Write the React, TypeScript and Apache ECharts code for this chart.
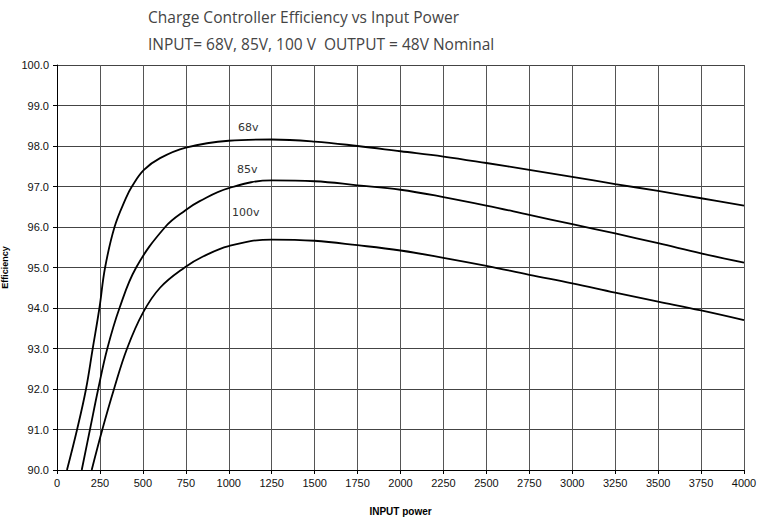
import React, { useEffect, useRef } from "react";
import * as echarts from "echarts";

const xTicks = [0, 250, 500, 750, 1000, 1250, 1500, 1750, 2000, 2250, 2500, 2750, 3000, 3250, 3500, 3750, 4000];

const series68v: [number, number][] = [
  [58, 90], [117, 91], [169, 92], [208, 93], [247, 94], [280, 95], [335, 96], [400, 96.7],
  [436, 97], [506, 97.41], [600, 97.7], [750, 97.96], [1000, 98.13], [1250, 98.16], [1500, 98.11],
  [1750, 98.0], [2000, 97.87], [2250, 97.74], [2500, 97.58], [2750, 97.41], [3000, 97.24],
  [3250, 97.06], [3500, 96.89], [3750, 96.71], [4000, 96.53],
];

const series85v: [number, number][] = [
  [144, 90], [192, 91], [240, 92], [293, 93], [364, 94], [461, 95], [630, 96], [750, 96.42],
  [831, 96.64], [1000, 96.96], [1250, 97.15], [1500, 97.13], [1750, 97.03], [2000, 96.92],
  [2250, 96.74], [2500, 96.53], [2750, 96.3], [3000, 96.07], [3250, 95.84], [3500, 95.6],
  [3750, 95.35], [4000, 95.12],
];

const series100v: [number, number][] = [
  [202, 90], [264, 91], [332, 92], [408, 93], [500, 93.88], [600, 94.5], [743, 95], [850, 95.27],
  [1000, 95.53], [1250, 95.69], [1500, 95.66], [1750, 95.55], [2000, 95.42], [2250, 95.24],
  [2500, 95.04], [2750, 94.82], [3000, 94.61], [3250, 94.38], [3500, 94.16], [3750, 93.94],
  [4000, 93.7],
];

const seriesNames = ["68v", "85v", "100v"];
const titleLine1 = "Charge Controller Efficiency vs Input Power";
const titleLine2 = "INPUT= 68V, 85V, 100 V  OUTPUT = 48V Nominal";

export default function App() {
  const ref = useRef<HTMLDivElement>(null);
  useEffect(() => {
    if (!ref.current) return;
    const chart = echarts.init(ref.current, null, { renderer: "svg" });
    const lineStyle = { color: "#000", width: 1.8 };
    const mk = (name: string, data: [number, number][]) => ({
      name,
      type: "line",
      data,
      smooth: 0.4,
      showSymbol: false,
      symbol: "none",
      lineStyle,
      silent: true,
    });
    chart.setOption({
      animation: false,
      backgroundColor: "#fff",
      grid: { left: 57, right: 14, top: 65, bottom: 47, containLabel: false, outerBoundsMode: "none" },
      xAxis: {
        type: "value",
        min: 0,
        max: 4000,
        interval: 250,
        name: "INPUT power",
        nameLocation: "middle",
        nameGap: 36,
        nameTextStyle: { fontFamily: "Liberation Sans", fontWeight: "bold", fontSize: 10, color: "#000" },
        axisLine: { show: true, lineStyle: { color: "#000", width: 1 } },
        axisTick: { show: true, length: 4, lineStyle: { color: "#000" } },
        axisLabel: {
          fontFamily: "Liberation Sans",
          fontSize: 11,
          color: "#111",
          margin: 7,
          formatter: (v: number) => (xTicks.includes(v) ? String(v) : ""),
        },
        splitLine: { show: true, lineStyle: { color: "#555", width: 1 } },
      },
      yAxis: {
        type: "value",
        min: 90,
        max: 100,
        interval: 1,
        name: "Efficiency",
        nameLocation: "middle",
        nameGap: 48,
        nameRotate: 90,
        nameTextStyle: { fontFamily: "Liberation Sans", fontWeight: "bold", fontSize: 9, color: "#000" },
        axisLine: { show: true, lineStyle: { color: "#000", width: 1 } },
        axisTick: { show: true, length: 4, lineStyle: { color: "#000" } },
        axisLabel: {
          fontFamily: "Liberation Sans",
          fontSize: 11,
          color: "#111",
          margin: 8,
          formatter: (v: number) => v.toFixed(1),
        },
        splitLine: { show: true, lineStyle: { color: "#444", width: 1 } },
      },
      graphic: [
        {
          type: "text",
          left: 148,
          top: 9,
          style: { text: titleLine1, fontFamily: "Open Sans", fontSize: 15.5, fill: "#444" },
        },
        {
          type: "text",
          left: 148,
          top: 36,
          style: { text: titleLine2, fontFamily: "Open Sans", fontSize: 15.5, fill: "#444" },
        },
        {
          type: "text",
          left: 238,
          top: 122,
          style: { text: seriesNames[0], fontFamily: "DejaVu Sans", fontSize: 11, fill: "#333" },
        },
        {
          type: "text",
          left: 237,
          top: 164,
          style: { text: seriesNames[1], fontFamily: "DejaVu Sans", fontSize: 11, fill: "#333" },
        },
        {
          type: "text",
          left: 232,
          top: 207,
          style: { text: seriesNames[2], fontFamily: "DejaVu Sans", fontSize: 11, fill: "#333" },
        },
      ],
      series: [mk(seriesNames[0], series68v), mk(seriesNames[1], series85v), mk(seriesNames[2], series100v)],
    });
    return () => chart.dispose();
  }, []);
  return (
    <div
      ref={ref}
      style={{ position: "absolute", left: 0, top: 0, width: 758, height: 517, background: "#fff" }}
    />
  );
}
